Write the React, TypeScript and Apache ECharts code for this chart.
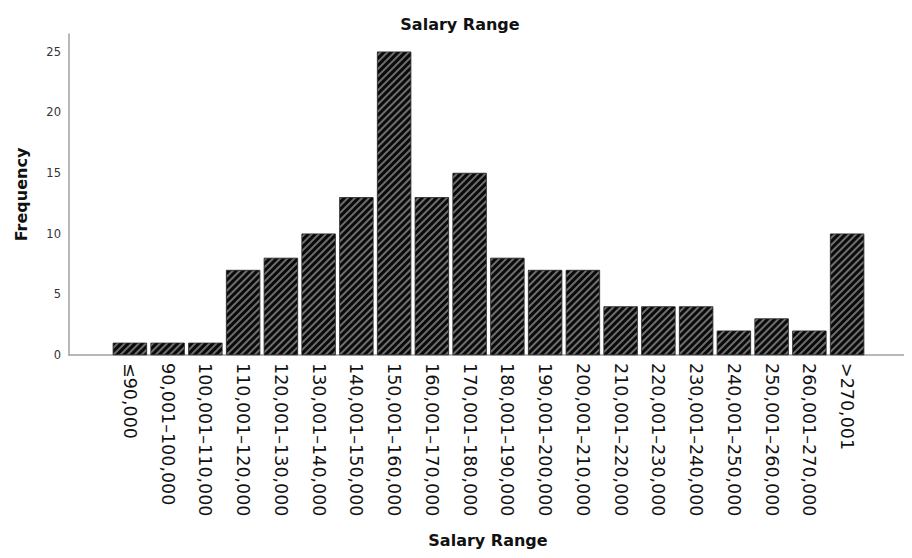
import React, { useEffect, useRef } from "react";
import * as echarts from "echarts";

const categories = [
  "≤90,000",
  "90,001–100,000",
  "100,001–110,000",
  "110,001–120,000",
  "120,001–130,000",
  "130,001–140,000",
  "140,001–150,000",
  "150,001–160,000",
  "160,001–170,000",
  "170,001–180,000",
  "180,001–190,000",
  "190,001–200,000",
  "200,001–210,000",
  "210,001–220,000",
  "220,001–230,000",
  "230,001–240,000",
  "240,001–250,000",
  "250,001–260,000",
  "260,001–270,000",
  ">270,001",
];
const frequency = [1, 1, 1, 7, 8, 10, 13, 25, 13, 15, 8, 7, 7, 4, 4, 4, 2, 3, 2, 10];
const yMax = 26.46;

const FONT = "DejaVu Sans";

export default function App() {
  const ref = useRef<HTMLDivElement>(null);
  useEffect(() => {
    if (!ref.current) return;
    const chart = echarts.init(ref.current, null, { renderer: "svg" });
    chart.setOption({
      animation: false,
      backgroundColor: "#ffffff",
      title: {
        text: "Salary Range",
        left: 455,
        top: 11,
        textAlign: "center",
        textStyle: { fontFamily: FONT, fontSize: 16, fontWeight: "bold", color: "#111" },
      },
      grid: [
        { left: 69, right: 5, top: 34, bottom: 203 },
        { left: 111, right: 46, top: 34, bottom: 203 },
      ],
      xAxis: [
        {
          type: "value",
          gridIndex: 0,
          min: 0,
          max: 1,
          axisLine: { show: true, lineStyle: { color: "#a0a0a0", width: 1.5 } },
          axisTick: { show: false },
          axisLabel: { show: false },
          splitLine: { show: false },
          name: "Salary Range",
          nameLocation: "middle",
          nameGap: 177,
          nameTextStyle: { fontFamily: FONT, fontSize: 16, fontWeight: "bold", color: "#111" },
        },
        {
          type: "category",
          gridIndex: 1,
          data: categories,
          axisLine: { show: false },
          axisTick: { show: false },
          axisLabel: {
            rotate: -90,
            margin: 8,
            interval: 0,
            fontFamily: FONT,
            fontSize: 17.5,
            color: "#111",
          },
        },
      ],
      yAxis: [
        {
          type: "value",
          gridIndex: 0,
          min: 0,
          max: yMax,
          interval: 5,
          axisLine: { show: true, lineStyle: { color: "#a0a0a0", width: 1.5 } },
          axisTick: { show: false },
          splitLine: { show: false },
          axisLabel: {
            showMaxLabel: false,
            margin: 8,
            fontFamily: FONT,
            fontSize: 11.5,
            color: "#333",
          },
          name: "Frequency",
          nameLocation: "middle",
          nameGap: 40,
          nameTextStyle: { fontFamily: FONT, fontSize: 16, fontWeight: "bold", color: "#111" },
        },
        {
          type: "value",
          gridIndex: 1,
          min: 0,
          max: yMax,
          show: false,
        },
      ],
      series: [
        {
          type: "bar",
          xAxisIndex: 1,
          yAxisIndex: 1,
          data: frequency,
          barCategoryGap: "10%",
          itemStyle: {
            color: "#0a0a0a",
            borderColor: "#222",
            borderWidth: 0.5,
            decal: {
              symbol: "rect",
              symbolSize: 1,
              dashArrayX: [1, 0],
              dashArrayY: [2, 3],
              rotation: -Math.PI / 4,
              color: "#6e6e6e",
            },
          },
        },
      ],
    });
    return () => chart.dispose();
  }, []);
  return <div ref={ref} style={{ width: 912, height: 558, marginLeft: -8, marginTop: -8 }} />;
}
